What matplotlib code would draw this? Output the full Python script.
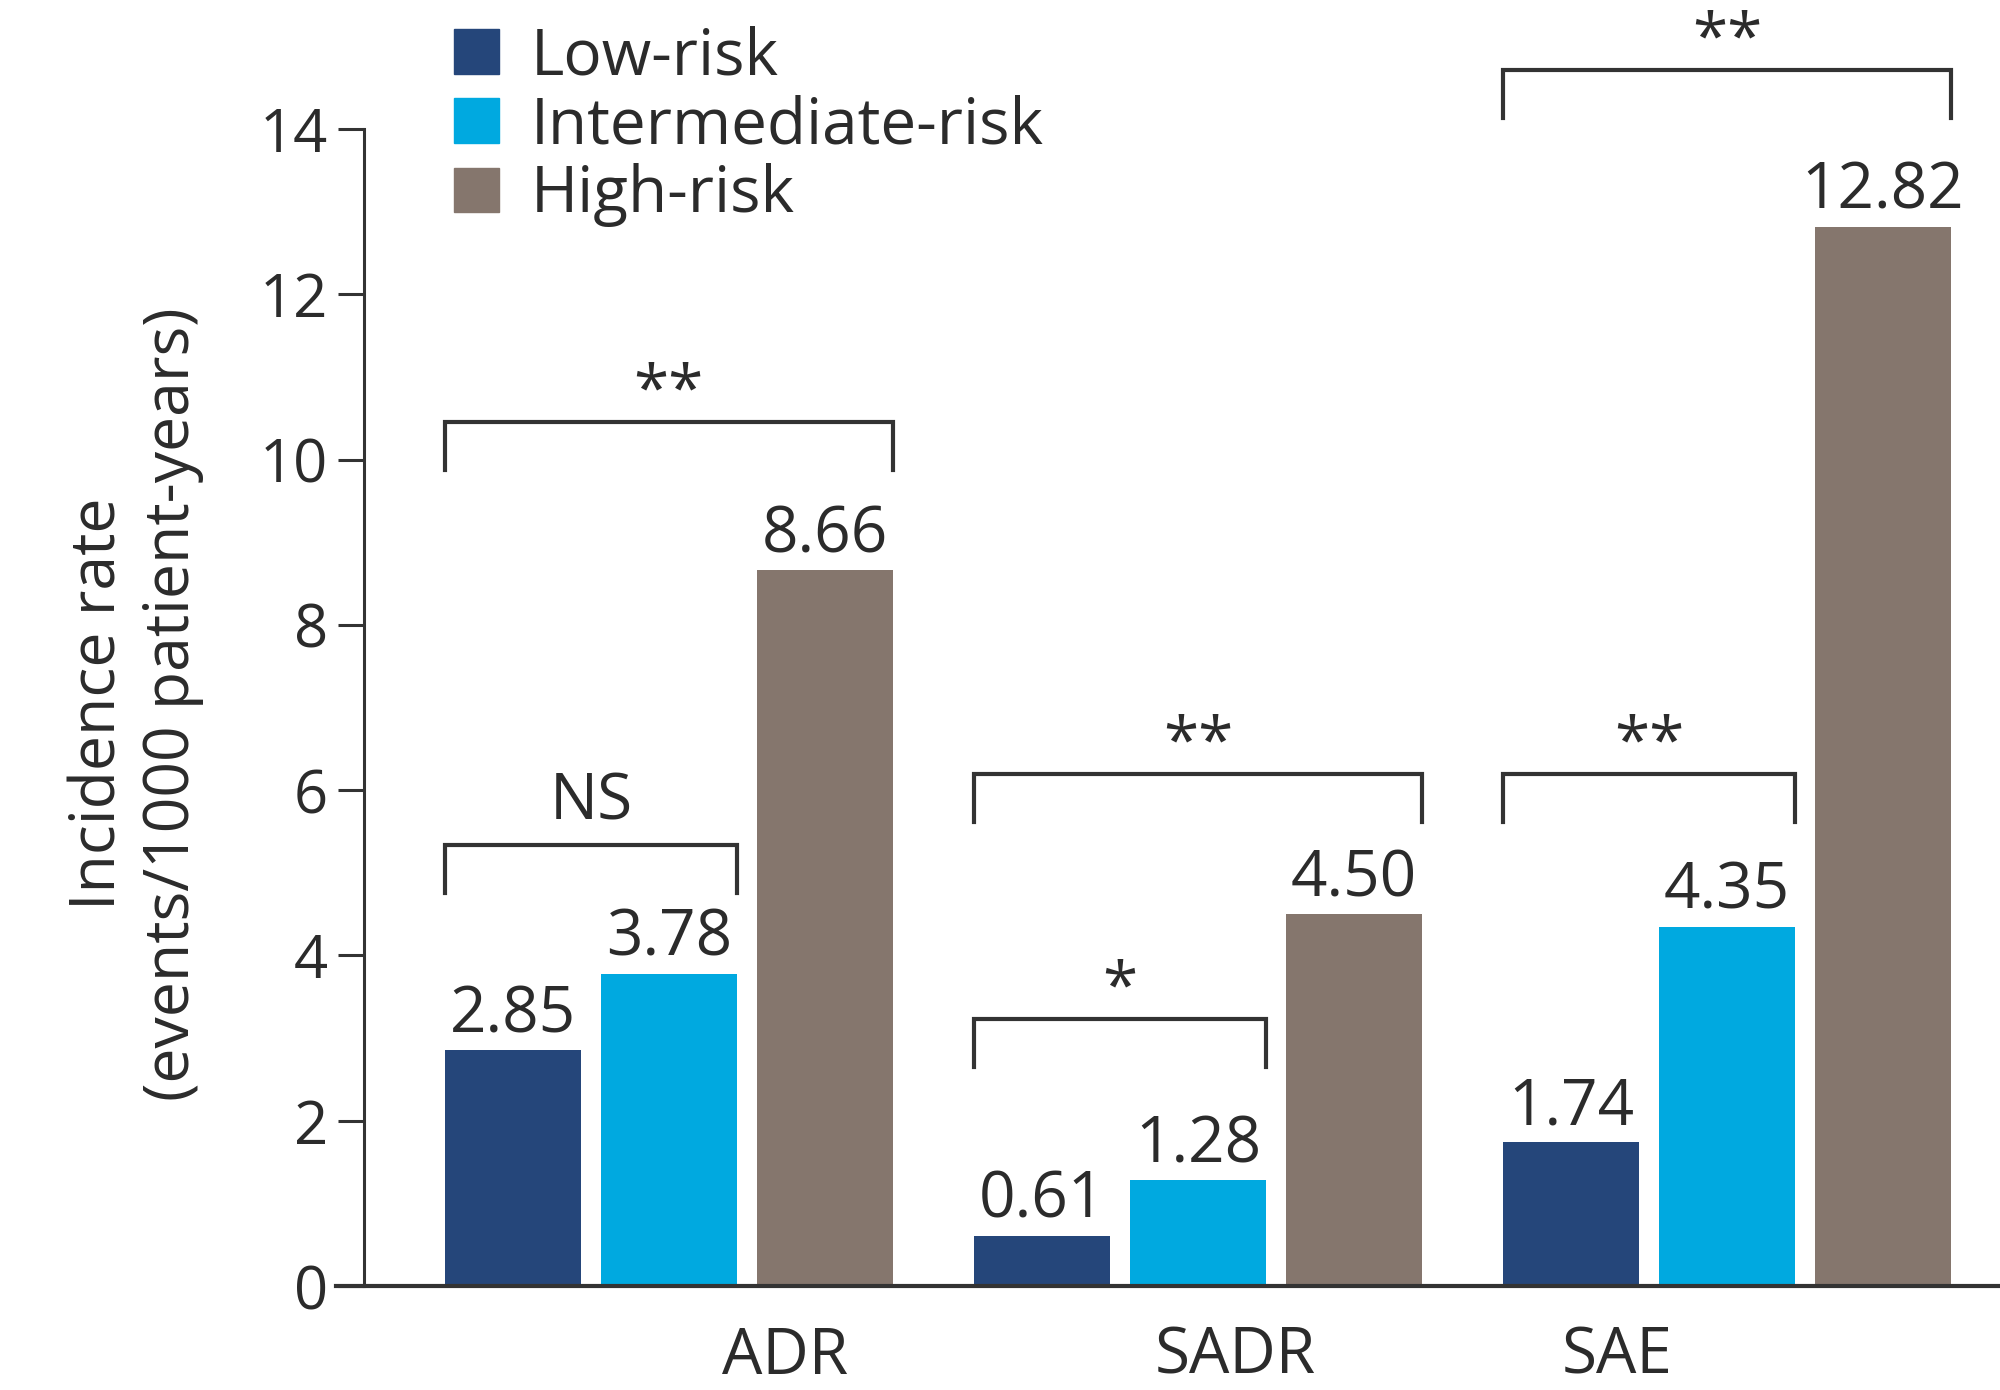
import numpy as np
import matplotlib
matplotlib.use('Agg')
import matplotlib.pyplot as plt
from matplotlib.patches import Patch

plt.rcParams['font.family'] = ['Open Sans', 'DejaVu Sans']

# Data
categories = ['ADR', 'SADR', 'SAE']
series = ['Low-risk', 'Intermediate-risk', 'High-risk']
low_risk = [2.85, 0.61, 1.74]
intermediate_risk = [3.78, 1.28, 4.35]
high_risk = [8.66, 4.50, 12.82]
# significance brackets: (category index, first series, last series, bracket height, label)
sig_group = [0, 0, 1, 1, 2, 2]
sig_from = [0, 0, 0, 0, 0, 0]
sig_to = [1, 2, 1, 2, 1, 2]
sig_height = [5.34, 10.45, 3.23, 6.20, 6.20, 14.71]
sig_label = ['NS', '**', '*', '**', '**', '**']

colors = ['#25467A', '#00A9E0', '#85766D']
text_col = '#2B2B2B'
fs = 46
fs_tick = 43

values = [low_risk, intermediate_risk, high_risk]
step = 0.2945
width = 0.257
x = np.arange(len(categories))

fig = plt.figure(figsize=(20, 13.9), dpi=100)
ax = fig.add_axes([0.182, 0.0748, 0.818, 0.8324])

for k in range(3):
    pos = x + (k - 1)*step
    ax.bar(pos, values[k], width, color=colors[k], label=series[k])
    for xi, v in zip(pos, values[k]):
        ax.annotate('%.2f' % v, (xi, v), xytext=(0, 2), textcoords='offset points',
                    ha='center', va='bottom', fontsize=fs, color=text_col)

# brackets
leg = 0.58
for g, i, j, h, lab in zip(sig_group, sig_from, sig_to, sig_height, sig_label):
    x0 = g + (i - 1)*step - width/2
    x1 = g + (j - 1)*step + width/2
    ax.plot([x0, x0, x1, x1], [h - leg, h, h, h - leg], color='#333333', lw=3,
            solid_joinstyle='miter', clip_on=False)
    off = 0.30 if lab == 'NS' else 0.14
    ax.text((x0 + x1)/2, h + off, lab, ha='center', va='baseline', fontsize=fs,
            color=text_col, clip_on=False)

ax.set_xlim(-0.576, 2.516)
ax.set_ylim(0, 14)
ax.set_yticks(np.arange(0, 15, 2))
ax.tick_params(axis='y', direction='out', length=19, width=2.2, pad=7,
               labelsize=fs_tick, colors='#333333', labelcolor=text_col)
ax.set_xticks([0.219, 1.07, 1.793])
ax.set_xticklabels(categories)
ax.tick_params(axis='x', length=0, pad=28, labelsize=fs, labelcolor=text_col)
for s in ['top', 'right']:
    ax.spines[s].set_visible(False)
ax.spines['left'].set_linewidth(2.2)
ax.spines['left'].set_color('#333333')
ax.spines['bottom'].set_linewidth(3)
ax.spines['bottom'].set_color('#333333')
ax.spines['bottom'].set_bounds(-0.629, 2.6)

fig.text(136/2000, 1 - 704/1390, 'Incidence rate\n(events/1000 patient-years)',
         rotation=90, ha='center', va='center', fontsize=45, color=text_col,
         linespacing=1.22)

handles = [Patch(color=c) for c in colors]
fig.legend(handles, series, loc='upper left', bbox_to_anchor=(0.227, 0.982),
           frameon=False, fontsize=fs, handlelength=0.7, handleheight=0.7,
           handletextpad=0.5, labelspacing=0.08, borderpad=0, borderaxespad=0,
           labelcolor=text_col)

fig.savefig('out.png', dpi=100)
